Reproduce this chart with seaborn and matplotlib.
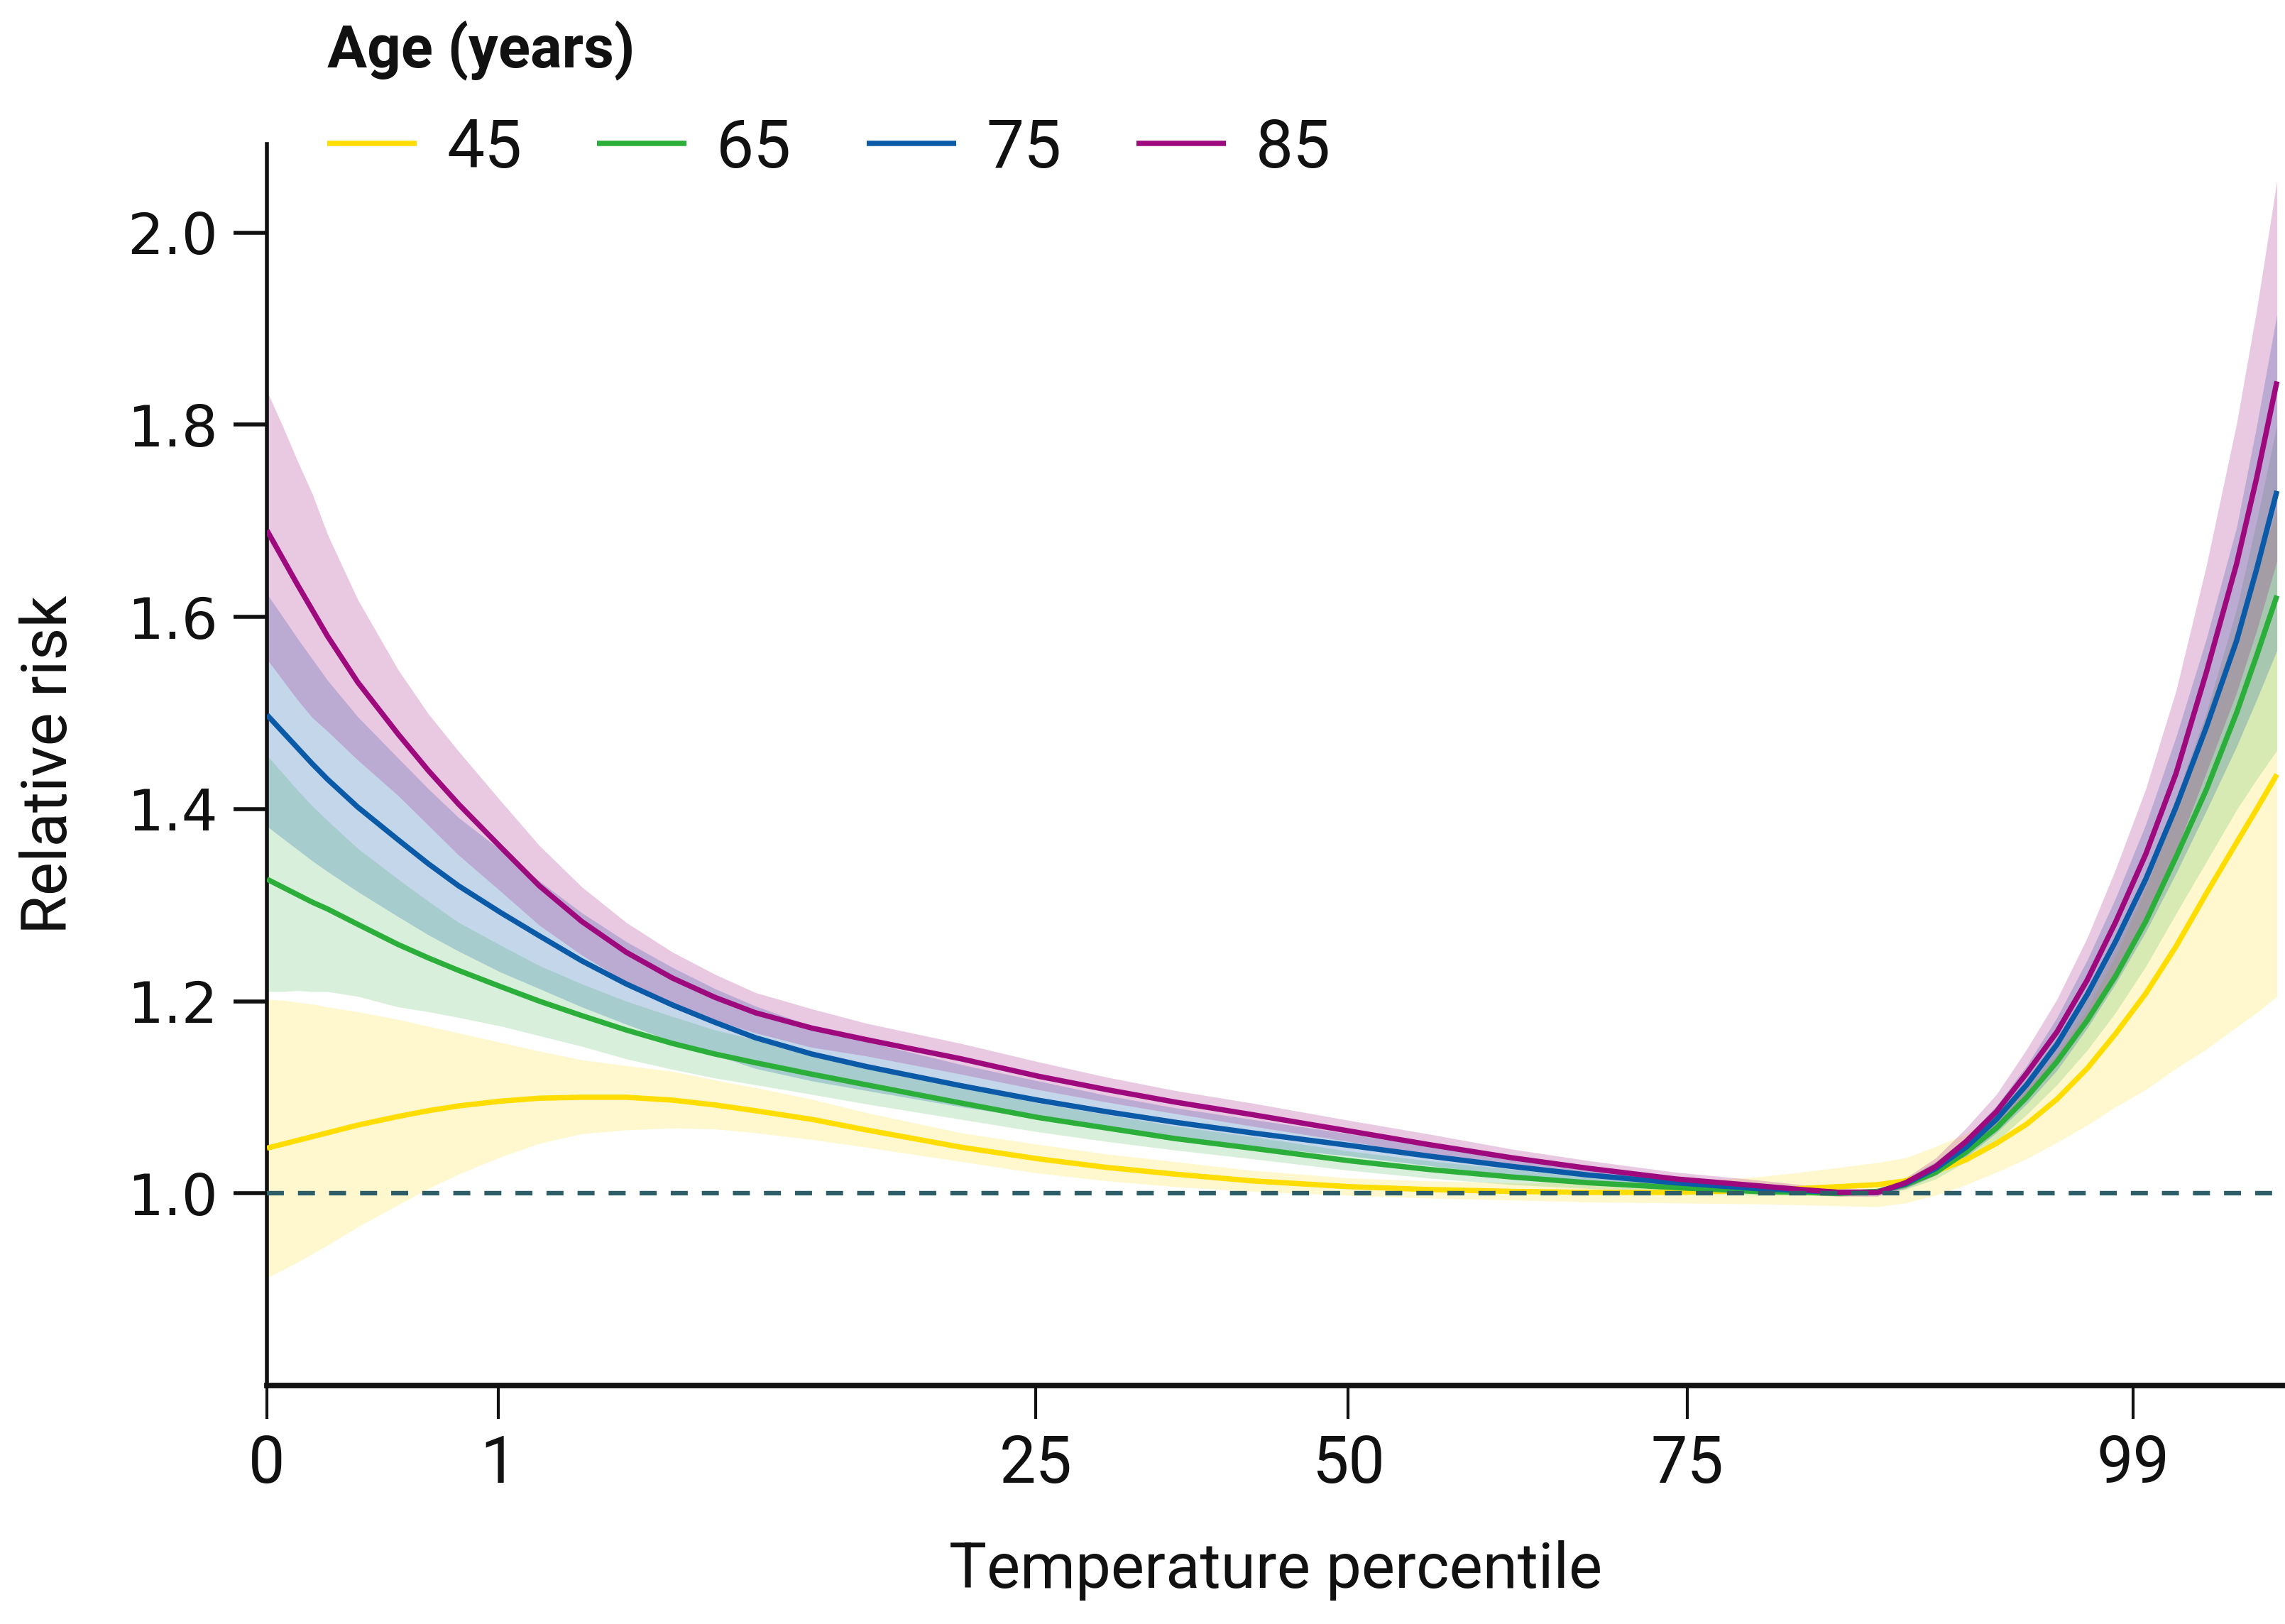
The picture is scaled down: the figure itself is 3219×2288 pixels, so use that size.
import numpy as np
import pandas as pd
import matplotlib
matplotlib.use("Agg")
import matplotlib.pyplot as plt
import seaborn as sns

# ---------------- data ----------------
# horizontal position on the (non-linear) percentile axis, 0..100 axis units
U = [0.0, 0.75, 1.5, 2.25, 3.0, 4.5, 6.5, 8.0, 9.5, 11.6,
     13.5, 15.6, 17.8, 20.1, 22.2, 24.2, 27.0, 29.7, 34.4,
     38.2, 41.6, 45.0, 48.8, 53.6, 57.5, 61.7, 65.5, 69.8, 73.8, 76.0, 77.9, 79.8,
     81.2, 82.7, 84.2, 85.7, 87.2, 88.7, 90.2, 91.6, 93.1, 94.6, 96.1, 97.6, 98.6, 99.6]

AGES = ["45", "65", "75", "85"]

RR45 = [1.047, 1.051, 1.055, 1.059, 1.063, 1.071, 1.080, 1.086, 1.091, 1.096,
        1.099, 1.100, 1.100, 1.097, 1.092, 1.086, 1.077, 1.066, 1.048,
        1.036, 1.027, 1.020, 1.013, 1.007, 1.004, 1.002, 1.001, 1.001, 1.003, 1.005, 1.007, 1.009,
        1.013, 1.023, 1.035, 1.052, 1.072, 1.098, 1.130, 1.166, 1.208, 1.257, 1.312, 1.365, 1.400, 1.436]
LO45 = [0.912, 0.920, 0.928, 0.937, 0.946, 0.965, 0.988, 1.005, 1.020, 1.038,
        1.052, 1.062, 1.066, 1.068, 1.067, 1.063, 1.056, 1.048, 1.033,
        1.021, 1.013, 1.007, 1.002, 0.998, 0.995, 0.993, 0.991, 0.990, 0.989, 0.988, 0.987, 0.986,
        0.990, 0.998, 1.009, 1.022, 1.036, 1.053, 1.071, 1.090, 1.108, 1.130, 1.150, 1.173, 1.188, 1.205]
HI45 = [1.202, 1.201, 1.199, 1.197, 1.194, 1.189, 1.181, 1.174, 1.167, 1.157,
        1.148, 1.139, 1.133, 1.127, 1.118, 1.110, 1.098, 1.084, 1.063,
        1.051, 1.041, 1.033, 1.024, 1.016, 1.013, 1.011, 1.011, 1.012, 1.017, 1.022, 1.027, 1.032,
        1.037, 1.049, 1.062, 1.083, 1.109, 1.145, 1.192, 1.247, 1.317, 1.398, 1.497, 1.588, 1.650, 1.711]

RR65 = [1.327, 1.319, 1.311, 1.303, 1.296, 1.280, 1.259, 1.245, 1.232, 1.215,
        1.200, 1.185, 1.170, 1.156, 1.145, 1.136, 1.124, 1.113, 1.094,
        1.079, 1.068, 1.057, 1.047, 1.034, 1.025, 1.017, 1.011, 1.006, 1.002, 1.001, 1.000, 1.002,
        1.009, 1.022, 1.043, 1.068, 1.100, 1.137, 1.180, 1.226, 1.283, 1.350, 1.420, 1.500, 1.560, 1.622]
LO65 = [1.210, 1.210, 1.211, 1.210, 1.210, 1.205, 1.194, 1.189, 1.183, 1.174,
        1.164, 1.153, 1.140, 1.129, 1.120, 1.113, 1.103, 1.093, 1.077,
        1.064, 1.054, 1.045, 1.036, 1.024, 1.016, 1.009, 1.005, 1.001, 0.998, 0.998, 0.997, 0.999,
        1.004, 1.015, 1.033, 1.054, 1.082, 1.113, 1.149, 1.188, 1.236, 1.291, 1.345, 1.399, 1.431, 1.461]
HI65 = [1.456, 1.438, 1.420, 1.403, 1.388, 1.359, 1.327, 1.304, 1.282, 1.258,
        1.237, 1.218, 1.200, 1.184, 1.170, 1.160, 1.145, 1.133, 1.112,
        1.094, 1.082, 1.070, 1.059, 1.044, 1.034, 1.025, 1.017, 1.011, 1.006, 1.004, 1.003, 1.005,
        1.014, 1.029, 1.053, 1.082, 1.119, 1.162, 1.212, 1.265, 1.332, 1.412, 1.500, 1.608, 1.700, 1.800]

RR75 = [1.498, 1.481, 1.464, 1.447, 1.431, 1.402, 1.368, 1.343, 1.320, 1.292,
        1.268, 1.242, 1.218, 1.196, 1.178, 1.162, 1.145, 1.132, 1.112,
        1.097, 1.085, 1.074, 1.063, 1.050, 1.039, 1.028, 1.019, 1.011, 1.005, 1.003, 1.001, 1.001,
        1.010, 1.026, 1.048, 1.077, 1.113, 1.155, 1.207, 1.262, 1.327, 1.402, 1.485, 1.575, 1.650, 1.731]
LO75 = [1.382, 1.370, 1.358, 1.346, 1.335, 1.314, 1.288, 1.269, 1.252, 1.230,
        1.213, 1.194, 1.176, 1.158, 1.144, 1.130, 1.117, 1.107, 1.090,
        1.078, 1.068, 1.059, 1.049, 1.039, 1.029, 1.019, 1.011, 1.005, 1.000, 0.999, 0.998, 0.998,
        1.005, 1.019, 1.038, 1.063, 1.093, 1.128, 1.172, 1.218, 1.272, 1.333, 1.398, 1.465, 1.514, 1.565]
HI75 = [1.624, 1.601, 1.578, 1.556, 1.534, 1.496, 1.453, 1.421, 1.391, 1.357,
        1.325, 1.292, 1.262, 1.235, 1.213, 1.195, 1.174, 1.158, 1.134,
        1.117, 1.102, 1.089, 1.077, 1.062, 1.049, 1.037, 1.027, 1.017, 1.010, 1.007, 1.004, 1.004,
        1.015, 1.033, 1.058, 1.091, 1.133, 1.183, 1.243, 1.307, 1.384, 1.475, 1.577, 1.693, 1.799, 1.915]

RR85 = [1.690, 1.662, 1.634, 1.607, 1.580, 1.532, 1.478, 1.440, 1.405, 1.360,
        1.320, 1.283, 1.251, 1.224, 1.204, 1.188, 1.172, 1.160, 1.140,
        1.122, 1.108, 1.095, 1.082, 1.065, 1.051, 1.037, 1.026, 1.015, 1.008, 1.004, 1.001, 1.001,
        1.011, 1.028, 1.054, 1.085, 1.125, 1.168, 1.222, 1.282, 1.353, 1.437, 1.542, 1.655, 1.745, 1.845]
LO85 = [1.556, 1.535, 1.514, 1.495, 1.481, 1.451, 1.414, 1.383, 1.352, 1.314,
        1.279, 1.248, 1.220, 1.198, 1.180, 1.167, 1.152, 1.143, 1.124,
        1.108, 1.095, 1.083, 1.070, 1.054, 1.041, 1.028, 1.018, 1.008, 1.002, 0.999, 0.997, 0.997,
        1.006, 1.019, 1.040, 1.067, 1.101, 1.135, 1.180, 1.229, 1.289, 1.356, 1.438, 1.521, 1.586, 1.658]
HI85 = [1.835, 1.800, 1.763, 1.728, 1.686, 1.618, 1.545, 1.499, 1.460, 1.408,
        1.362, 1.319, 1.282, 1.251, 1.228, 1.209, 1.192, 1.177, 1.156,
        1.137, 1.121, 1.107, 1.094, 1.076, 1.062, 1.046, 1.034, 1.022, 1.014, 1.009, 1.005, 1.005,
        1.016, 1.037, 1.068, 1.103, 1.150, 1.202, 1.266, 1.337, 1.421, 1.523, 1.653, 1.801, 1.920, 2.054]

X_TICK_POS = [0.0, 11.48, 38.09, 53.58, 70.39, 92.47]
X_TICK_LABELS = ["0", "1", "25", "50", "75", "99"]
Y_TICKS = [1.0, 1.2, 1.4, 1.6, 1.8, 2.0]
Y_TICK_LABELS = ["1.0", "1.2", "1.4", "1.6", "1.8", "2.0"]

COLORS = ["#FFDD00", "#2BAE3A", "#0B5AA8", "#9E0A7E"]
BAND_ALPHA = [0.19, 0.18, 0.24, 0.22]

# ---------------- figure ----------------
sns.set_style("ticks")
plt.rcParams["font.family"] = ["Roboto", "DejaVu Sans"]

W, H, DPI = 3219, 2288, 200
fig = plt.figure(figsize=(W / DPI, H / DPI), dpi=DPI)
left, right, top, bottom = 376, 3219, 203, 1952
ax = fig.add_axes([left / W, 1 - bottom / H, (right - left) / W, (bottom - top) / H])

series = [RR45, RR65, RR75, RR85]
lows = [LO45, LO65, LO75, LO85]
highs = [HI45, HI65, HI75, HI85]

rows = []
for age, rr in zip(AGES, series):
    for u, v in zip(U, rr):
        rows.append({"pos": u, "rr": v, "age": age})
df = pd.DataFrame(rows)

for lo, hi, c, a in zip(lows, highs, COLORS, BAND_ALPHA):
    ax.fill_between(U, lo, hi, color=c, alpha=a, linewidth=0, zorder=1)

sns.lineplot(data=df, x="pos", y="rr", hue="age", hue_order=AGES, palette=COLORS,
             linewidth=2.7, estimator=None, sort=False, ax=ax, zorder=3)
for ln in ax.get_lines():
    ln.set_solid_joinstyle("round")
    ln.set_solid_capstyle("butt")

ax.axhline(1.0, color="#2E5E68", lw=2.3, dashes=(3.75, 3.1), zorder=4)

ax.set_xlim(0, 100)
ax.set_ylim(0.8, 2.092)
ax.set_xticks(X_TICK_POS)
ax.set_xticklabels(X_TICK_LABELS)
ax.set_yticks(Y_TICKS)
ax.set_yticklabels(Y_TICK_LABELS)

for s in ["top", "right"]:
    ax.spines[s].set_visible(False)
ax.spines["left"].set_linewidth(2.0)
ax.spines["bottom"].set_linewidth(2.8)
ax.spines["left"].set_color("#111111")
ax.spines["bottom"].set_color("#111111")

ax.tick_params(axis="y", length=17, width=2.0, pad=8, labelsize=29, colors="#111111")
ax.tick_params(axis="x", length=17, width=1.5, pad=7, labelsize=33, colors="#111111")
for lbl in ax.get_yticklabels():
    lbl.set_fontfamily(["DejaVu Sans"])

ax.set_xlabel("Temperature percentile", fontsize=32, color="#111111")
ax.xaxis.set_label_coords(0.5, (bottom - 2170) / (bottom - top))
ax.set_ylabel("Relative risk", fontsize=32, color="#111111")
ax.yaxis.set_label_coords((112 - left) / (right - left), 0.5)

handles, labels = ax.get_legend_handles_labels()
if ax.get_legend() is not None:
    ax.get_legend().remove()
leg = fig.legend(handles, labels, title="Age (years)", ncol=4, loc="upper left",
                 bbox_to_anchor=(461 / W, 1 - 28 / H), bbox_transform=fig.transFigure,
                 frameon=False, fontsize=34, handlelength=1.33, handletextpad=0.45,
                 columnspacing=1.12, borderpad=0, borderaxespad=0, labelspacing=0.55,
                 alignment="left",
                 title_fontproperties={"weight": "bold", "size": 30})
for h in leg.legend_handles:
    h.set_linewidth(2.7)
for t in leg.get_texts():
    t.set_color("#111111")
leg.get_title().set_color("#111111")

fig.savefig("out.png", dpi=DPI)
